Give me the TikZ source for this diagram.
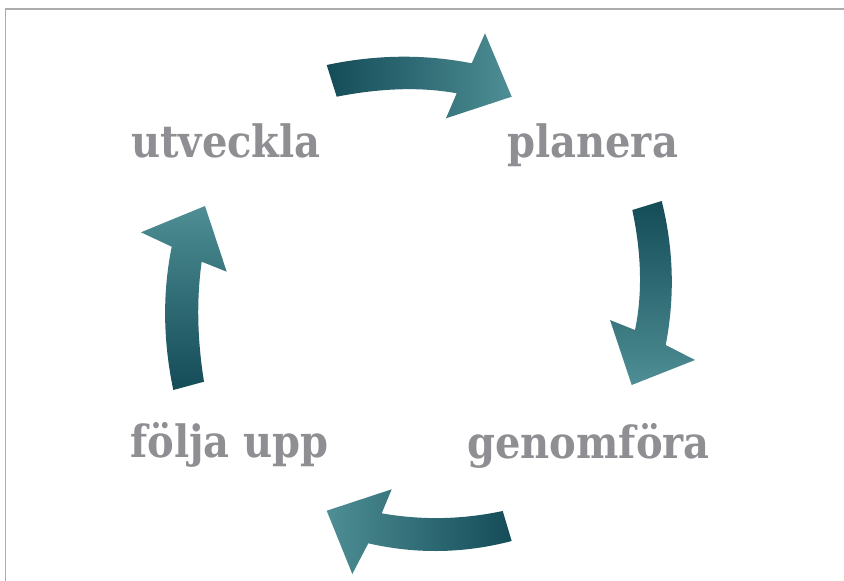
\documentclass[tikz,border=0pt]{standalone}
\usepackage{fontspec}
\newfontfamily\slabfont{DejaVu Serif Condensed}[BoldFont={* Bold}]
\definecolor{tealdark}{RGB}{20,76,88}
\definecolor{tealmid}{RGB}{26,92,103}
\definecolor{teallight}{RGB}{78,142,148}
\definecolor{labelgray}{RGB}{142,142,147}
\definecolor{framegray}{RGB}{172,172,172}
\tikzset{
  cyclelabel/.style={anchor=base west,inner sep=0pt,text=labelgray,font=\slabfont\bfseries\fontsize{44.5}{44.5}\selectfont},
  cyclearrow/.style={draw=none},
}
\begin{document}
\begin{tikzpicture}[x=1pt,y=-1pt]
\useasboundingbox (0,0) rectangle (844,581);
% frame
\draw[framegray,line width=1.4pt] (5.5,581) -- (5.5,9) -- (844,9);
% top arrow
\shade[cyclearrow,left color=tealdark,middle color=tealmid,right color=teallight]
  (326.7,65) .. controls (376.1,54.5) and (424.4,54.0) .. (471.7,63.3)
  -- (485,33.3) -- (511.7,96.7) -- (446,118.3) -- (456.7,93.3)
  .. controls (421.1,86.8) and (381.1,88.0) .. (336.7,96.7) -- cycle;
% right arrow
\shade[cyclearrow,top color=tealdark,middle color=tealmid,bottom color=teallight]
  (661.7,201) .. controls (673.7,249) and (675.0,297) .. (665.7,345)
  -- (695,360) -- (631.7,385) -- (610,320) -- (635,330)
  .. controls (642.5,294) and (641.6,254) .. (632.3,210) -- cycle;
% bottom arrow
\shade[cyclearrow,left color=teallight,middle color=tealmid,right color=tealdark]
  (511.7,541) .. controls (463.9,553.5) and (416.1,554.3) .. (368.3,543.3)
  -- (352.3,574) -- (326.7,510.7) -- (391.7,489.3) -- (381.7,513.3)
  .. controls (421.8,520.4) and (462.1,519.6) .. (502.7,511) -- cycle;
% left arrow
\shade[cyclearrow,top color=teallight,middle color=tealmid,bottom color=tealdark]
  (173.3,390) .. controls (163.2,341.8) and (162.2,294.0) .. (171.7,246.7)
  -- (141,232.3) -- (205,206) -- (226.7,271.7) -- (201.7,261.7)
  .. controls (196.4,299.4) and (197.2,339.4) .. (204,381.7) -- cycle;
% labels
\node[cyclelabel] (utveckla) at (131,157) {utveckla};
\node[cyclelabel] (planera) at (507,157.7) {planera};
\node[cyclelabel] (foljaupp) at (130,457) {följa upp};
\node[cyclelabel] (genomfora) at (467,458) {genomföra};
\end{tikzpicture}
\end{document}
